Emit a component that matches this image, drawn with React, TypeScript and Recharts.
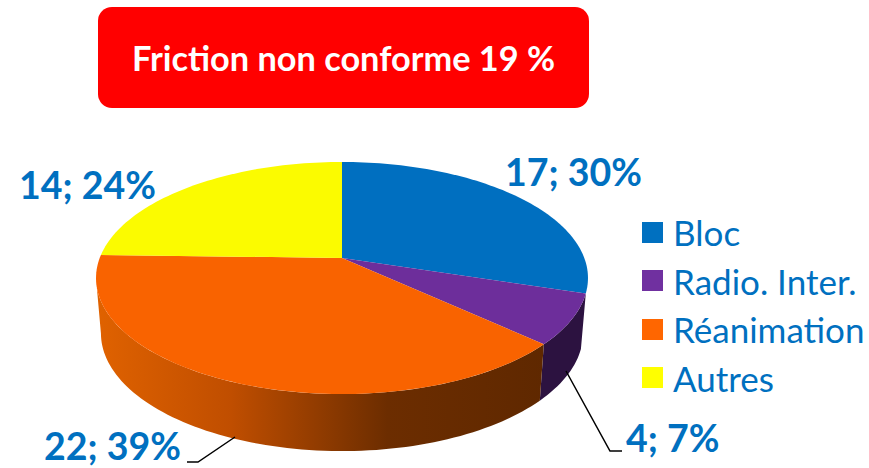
import { PieChart, Pie, Cell, Legend } from 'recharts';

const categories = ['Bloc', 'Radio. Inter.', 'Réanimation', 'Autres'];
const counts = [17, 4, 22, 14];
const percents = [30, 7, 39, 24];

const data = categories.map((name, i) => ({ name, value: counts[i] }));

const topColors = ['#006fc0', '#6d2e9b', '#f96300', '#fbfb00'];
const legendColors = ['#0070c0', '#7030a0', '#ff6600', '#ffff00'];
const wallFills = ['none', '#2c1240', 'url(#orangeWall)', 'none'];

const labelSpots = [
  { x: 505, y: 186 },
  { x: 626, y: 452 },
  { x: 44, y: 460 },
  { x: 19, y: 199 },
];
const leaderLines = [null, '566,371 610,451 622,451', '235,437 198,462 187,462', null];

const BLUE = '#0070c0';
const FONT = 'Lato, Carlito, sans-serif';

// tilted disc: circle plane seen through a simple perspective
const CX = 342;
const CY = 258;
const RX = 242.3;
const RY = 112.6;
const PERSP = 0.1724;
const DEPTH = 55;
const BOTTOM_SCALE = 0.98;

function project(deg: number) {
  const a = (deg * Math.PI) / 180;
  const u = Math.sin(a);
  const v = Math.cos(a);
  const d = 1 + PERSP * v;
  return { x: CX + (RX * u) / d, y: CY - (RY * v) / d };
}

function rim(from: number, to: number) {
  const n = Math.max(2, Math.ceil((to - from) / 1.5));
  const pts = [];
  for (let i = 0; i <= n; i++) pts.push(project(from + ((to - from) * i) / n));
  return pts;
}

const toPath = (pts: { x: number; y: number }[]) =>
  pts.map((p, i) => `${i ? 'L' : 'M'}${p.x.toFixed(2)} ${p.y.toFixed(2)}`).join(' ');

function Slice3D(props: any) {
  const { startAngle, endAngle, fill, index } = props;
  const from = 90 - startAngle;
  const to = 90 - endAngle;
  const i = index ?? categories.findIndex((c) => c === props.name);

  // only the front of the rim shows a wall
  const wallFrom = Math.max(from, 100);
  const wallTo = Math.min(to, 260);
  let wall = null;
  if (wallFills[i] !== 'none' && wallTo > wallFrom) {
    const top = rim(wallFrom, wallTo);
    const bottom = top
      .map((p) => ({ x: CX + (p.x - CX) * BOTTOM_SCALE, y: p.y + DEPTH + (p.y - CY) * 0.015 }))
      .reverse();
    wall = <path d={`${toPath([...top, ...bottom])} Z`} fill={wallFills[i]} stroke="none" />;
  }

  return (
    <g>
      {wall}
      <path d={`${toPath([{ x: CX, y: CY }, ...rim(from, to)])} Z`} fill={fill} stroke="none" />
    </g>
  );
}

function renderLabel(props: any) {
  const i = props.index;
  const spot = labelSpots[i];
  return (
    <g key={categories[i]}>
      {leaderLines[i] && <polyline points={leaderLines[i]!} fill="none" stroke="#000" strokeWidth={1.5} />}
      <text x={spot.x} y={spot.y} fill={BLUE} fontFamily={FONT} fontWeight={700} fontSize={37.5} textAnchor="start">
        {`${counts[i]}; ${percents[i]}%`}
      </text>
    </g>
  );
}

function LegendRows() {
  return (
    <div style={{ fontFamily: FONT, fontSize: 35, color: BLUE }}>
      {categories.map((c, i) => (
        <div key={c} style={{ display: 'flex', alignItems: 'center', height: 48.5 }}>
          <span style={{ width: 21, height: 21, background: legendColors[i], marginRight: 10, flex: 'none' }} />
          <span style={{ whiteSpace: 'nowrap' }}>{c}</span>
        </div>
      ))}
    </div>
  );
}

export default function App() {
  return (
    <div style={{ position: 'absolute', left: 0, top: 0, width: 869, height: 468, background: '#fff', overflow: 'hidden' }}>
      <PieChart width={869} height={468} margin={{ top: 0, right: 0, bottom: 0, left: 0 }}>
        <defs>
          <linearGradient id="orangeWall" gradientUnits="userSpaceOnUse" x1={96} y1={0} x2={545} y2={0}>
            <stop offset="0" stopColor="#e06200" />
            <stop offset="0.3" stopColor="#c04e00" />
            <stop offset="0.65" stopColor="#6c2d00" />
            <stop offset="1" stopColor="#5f2800" />
          </linearGradient>
        </defs>
        <Pie
          data={data}
          dataKey="value"
          nameKey="name"
          cx={CX}
          cy={CY}
          outerRadius={100}
          startAngle={90}
          endAngle={-270}
          stroke="none"
          shape={Slice3D}
          label={renderLabel}
          labelLine={false}
          isAnimationActive={false}
        >
          {categories.map((c, i) => (
            <Cell key={c} fill={topColors[i]} />
          ))}
        </Pie>
        <Legend content={LegendRows} layout="vertical" wrapperStyle={{ left: 642, top: 208, width: 227 }} />
      </PieChart>
      <div
        style={{
          position: 'absolute',
          left: 98,
          top: 7,
          width: 491,
          height: 101,
          borderRadius: 14,
          background: '#ff0000',
          color: '#fff',
          fontFamily: FONT,
          fontWeight: 700,
          fontSize: 34.3,
          display: 'flex',
          alignItems: 'center',
          justifyContent: 'center',
        }}
      >
        Friction non conforme 19 %
      </div>
    </div>
  );
}
